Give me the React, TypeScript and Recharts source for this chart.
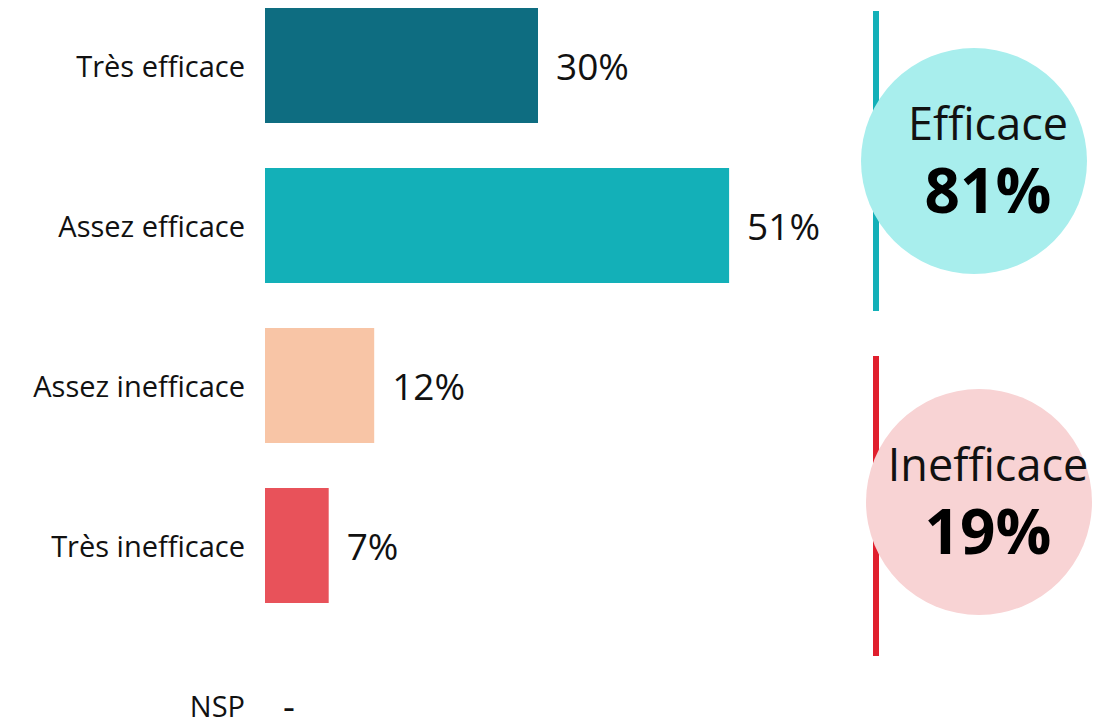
import React from "react"
import { BarChart, Bar, XAxis, YAxis, Cell, LabelList } from "recharts"

const categories = ["Très efficace", "Assez efficace", "Assez inefficace", "Très inefficace", "NSP"]
const values = [30, 51, 12, 7, 0]
const valueLabels = ["30%", "51%", "12%", "7%", "-"]
const barColors = ["#0e6d81", "#13b0b8", "#f8c5a6", "#e8525a", "#ffffff"]

const groupNames = ["Efficace", "Inefficace"]
const groupMembers = [[0, 1], [2, 3]]
const groupLineColors = ["#13b0b8", "#e01f2d"]
const groupCircleColors = ["#a8eeed", "#f8d3d4"]

const data = categories.map((name, i) => ({ name, value: values[i], label: valueLabels[i] }))
const totals = groupMembers.map((idx) => idx.reduce((s, i) => s + values[i], 0))

const FONT = "'Open Sans', 'Noto Sans', sans-serif"
const TICK_GAP = 20
const LABEL_GAP = 18

const ValueLabel = (props: any) => {
  const { x, y, width, height, index } = props
  if (!values[index]) return null
  return (
    <text
      x={x + width + LABEL_GAP}
      y={y + height / 2}
      dominantBaseline="central"
      fontSize={37}
      fill="#111"
      fontFamily={FONT}
    >
      {valueLabels[index]}
    </text>
  )
}

// category tick; empty rows (NSP) get their "-" drawn next to the axis
const CategoryTick = (props: any) => {
  const { x, y, payload } = props
  const i = payload.index
  return (
    <g>
      <text
        x={x}
        y={y}
        textAnchor="end"
        dominantBaseline="central"
        fontSize={29}
        fill="#111"
        fontFamily={FONT}
      >
        {payload.value}
      </text>
      {!values[i] && (
        <text
          x={x + TICK_GAP + LABEL_GAP}
          y={y}
          dominantBaseline="central"
          fontSize={37}
          fill="#111"
          fontFamily={FONT}
        >
          {valueLabels[i]}
        </text>
      )}
    </g>
  )
}

// bracket line + circle for each group
const GroupBadge = ({ i }: { i: number }) => {
  const tops = [11, 356]
  const cx = [974, 979]
  const cy = [161, 502]
  return (
    <g>
      <rect x={873} y={tops[i]} width={6} height={300} fill={groupLineColors[i]} />
      <circle cx={cx[i]} cy={cy[i]} r={113} fill={groupCircleColors[i]} />
      <text
        x={988}
        y={cy[i] - 21}
        textAnchor="middle"
        fontSize={45}
        fontFamily={FONT}
        fill="#111"
      >
        {groupNames[i]}
      </text>
      <text
        x={988}
        y={cy[i] + 52}
        textAnchor="middle"
        fontSize={62}
        fontWeight={700}
        fontFamily={FONT}
        fill="#000"
      >
        {totals[i]}%
      </text>
    </g>
  )
}

export default function App() {
  return (
    <div
      style={{
        position: "absolute",
        left: 0,
        top: 0,
        width: 1107,
        height: 724,
        overflow: "hidden",
        background: "#fff",
        fontFamily: FONT,
      }}
    >
      <div style={{ position: "absolute", left: 0, top: -15 }}>
        <BarChart
          width={1107}
          height={800}
          data={data}
          layout="vertical"
          margin={{ top: 0, right: 114, bottom: 0, left: 0 }}
          barCategoryGap={0}
        >
          <XAxis type="number" domain={[0, 80]} hide />
          <YAxis
            type="category"
            dataKey="name"
            width={265}
            axisLine={false}
            tickLine={false}
            tickSize={0}
            tickMargin={TICK_GAP}
            tick={<CategoryTick />}
          />
          <Bar dataKey="value" barSize={115} isAnimationActive={false}>
            {data.map((d, i) => (
              <Cell key={d.name} fill={barColors[i]} />
            ))}
            <LabelList dataKey="label" content={<ValueLabel />} />
          </Bar>
        </BarChart>
      </div>
      <svg
        width={1107}
        height={724}
        style={{ position: "absolute", left: 0, top: 0, pointerEvents: "none" }}
      >
        {groupNames.map((_, i) => (
          <GroupBadge key={i} i={i} />
        ))}
      </svg>
    </div>
  )
}
